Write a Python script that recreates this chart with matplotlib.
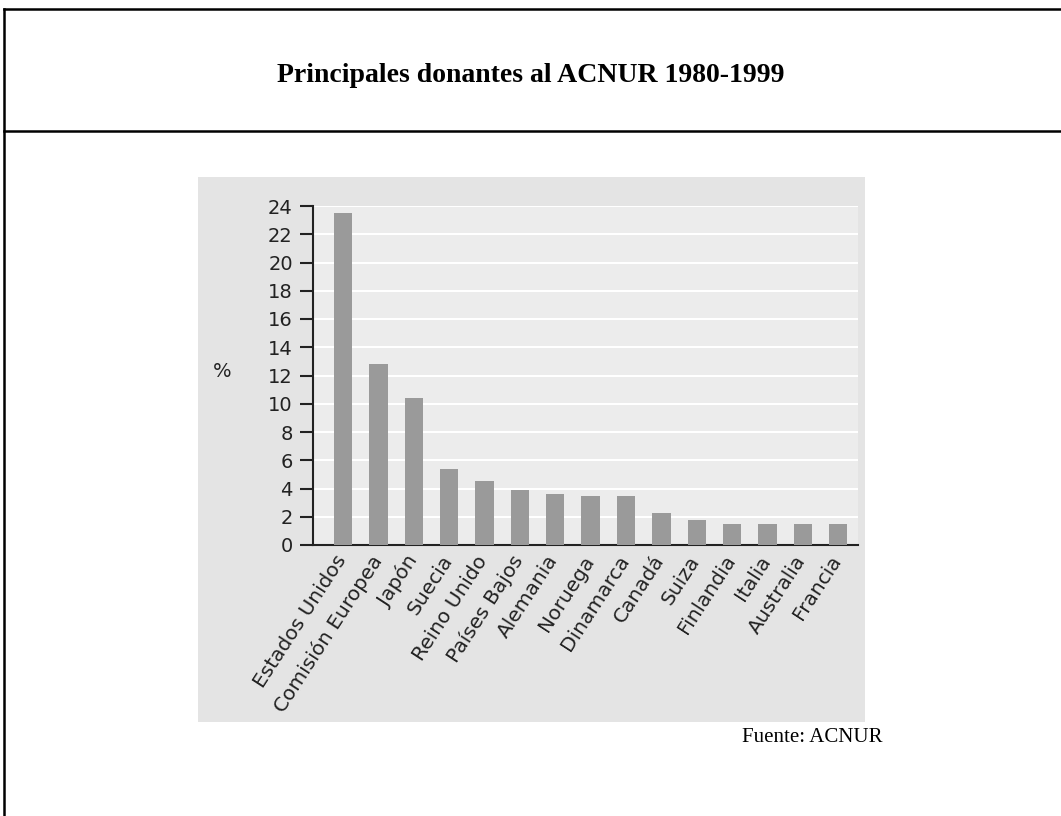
import matplotlib as mpl
mpl.use('Agg')
import matplotlib.pyplot as plt
from matplotlib.patches import Rectangle
from matplotlib.lines import Line2D
from matplotlib.transforms import ScaledTranslation

# data
countries = ['Estados Unidos', 'Comisión Europea', 'Japón', 'Suecia', 'Reino Unido',
             'Países Bajos', 'Alemania', 'Noruega', 'Dinamarca', 'Canadá', 'Suiza',
             'Finlandia', 'Italia', 'Australia', 'Francia']
shares = [23.5, 12.8, 10.4, 5.4, 4.5, 3.9, 3.6, 3.5, 3.5, 2.3, 1.8, 1.5, 1.5, 1.5, 1.5]
yticks = list(range(0, 25, 2))

W, H = 1061, 816
fig = plt.figure(figsize=(W / 100, H / 100), dpi=100)
fig.patch.set_facecolor('white')

# frame lines of the page
def px(x, y):
    return x / W, 1 - y / H

for (x0, y0), (x1, y1) in [((4, 9), (1061, 9)), ((4, 9), (4, 816)), ((4, 131), (1061, 131))]:
    a, b = px(x0, y0)
    c, d = px(x1, y1)
    fig.add_artist(Line2D([a, c], [b, d], color='black', lw=1.8, transform=fig.transFigure))

fig.text(0.5, px(0, 75)[1], 'Principales donantes al ACNUR 1980-1999', ha='center', va='center',
         fontsize=20, fontweight='bold', family='Liberation Serif')

# grey panel behind the chart
l, t = px(198, 177)
r, b = px(865, 722)
fig.add_artist(Rectangle((l, b), r - l, t - b, transform=fig.transFigure,
                         facecolor='#e4e4e4', edgecolor='none', zorder=0))

fig.text(px(882, 0)[0], px(0, 738)[1], 'Fuente: ACNUR', ha='right', va='center',
         fontsize=15, family='Liberation Serif')

ax = fig.add_axes([313 / W, 1 - 545 / H, 545 / W, (545 - 206) / H])
ax.set_facecolor('#ececec')
x = list(range(len(countries)))
ax.bar(x, shares, width=0.52, color='#9a9a9a', zorder=3, clip_on=False)
ax.set_xlim(-0.85, len(countries) - 1 + 0.56)
ax.set_ylim(0, 24)
ax.set_yticks(yticks)
ax.yaxis.grid(True, color='white', lw=1.5, zorder=0)
ax.set_axisbelow(True)
for s in ['top', 'right']:
    ax.spines[s].set_visible(False)
for s in ['left', 'bottom']:
    ax.spines[s].set_color('#222222')
    ax.spines[s].set_linewidth(1.5)
ax.tick_params(axis='y', length=9.5, width=1.5, color='#222222', labelsize=14, labelcolor='#222222', pad=5)
ax.tick_params(axis='x', length=0, pad=5)
ax.set_xticks(x)
ax.set_xticklabels(countries, rotation=57, ha='right', va='top', rotation_mode='anchor',
                   fontsize=14.5, color='#222222')
shift = ScaledTranslation(-9 / 100, 0, fig.dpi_scale_trans)
for lab in ax.get_xticklabels():
    lab.set_transform(lab.get_transform() + shift)
ax.text(px(222, 0)[0], px(0, 372)[1], '%', transform=fig.transFigure, ha='center', va='center',
        fontsize=14, color='#222222')

fig.savefig('out.png', dpi=100)
